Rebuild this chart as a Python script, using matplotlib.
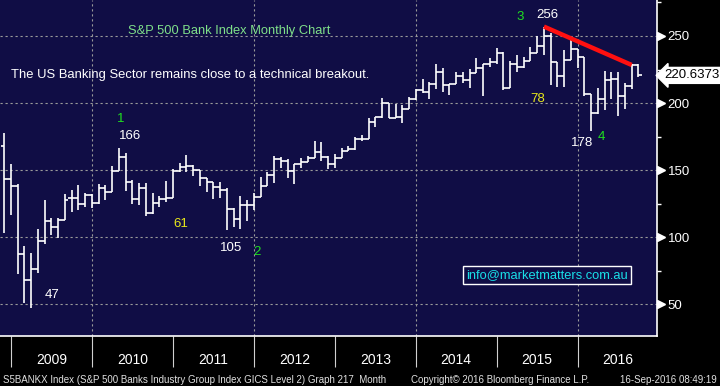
import matplotlib
matplotlib.use('Agg')
import matplotlib.pyplot as plt
import matplotlib.transforms as mtransforms
import numpy as np

# monthly OHLC, Nov 2008 .. Sep 2016 (bars dated month end)
opens = [168.0, 143.4, 138.0, 87.3, 67.9, 76.1, 97.4, 112.3, 107.4, 112.6, 129.3, 129.3, 124.6, 131.3,
         125.3, 136.7, 134.0, 149.4, 159.6, 141.4, 128.3, 136.5, 117.8, 125.3, 128.5, 129.0,
         149.4, 152.1, 153.1, 150.1, 143.9, 141.0, 137.2, 135.0, 120.8, 113.4, 124.0, 124.0,
         130.2, 138.2, 146.2, 158.1, 157.1, 149.6, 154.4, 155.9, 158.8, 163.3, 159.6, 154.6,
         158.8, 164.5, 165.6, 173.0, 173.3, 186.1, 189.9, 199.8, 189.1, 189.9, 195.4, 202.8,
         209.8, 208.3, 214.0, 223.4, 213.2, 214.0, 220.2, 217.0, 222.7, 225.9, 229.1, 230.4,
         237.1, 211.5, 228.9, 226.7, 231.6, 237.1, 242.6, 250.0, 230.9, 220.4, 232.1, 240.1,
         234.1, 206.5, 192.4, 203.0, 217.2, 218.0, 205.0, 212.7, 228.6]
highs = [177.5, 154.4, 139.5, 93.5, 88.0, 105.9, 127.5, 114.1, 114.1, 132.2, 135.2, 139.0, 133.0, 132.0,
         139.5, 139.0, 153.1, 166.3, 163.0, 143.0, 140.7, 140.2, 132.8, 131.0, 141.9, 150.6,
         155.1, 161.3, 153.9, 150.5, 144.4, 141.0, 141.0, 136.5, 121.6, 130.7, 127.8, 133.2,
         145.1, 148.4, 160.6, 160.0, 158.0, 154.4, 158.8, 160.8, 171.7, 171.2, 160.6, 162.0,
         166.3, 168.2, 175.0, 176.2, 189.1, 189.9, 203.6, 200.3, 199.5, 198.6, 204.8, 210.3,
         217.7, 216.0, 228.9, 225.9, 214.5, 223.0, 223.4, 225.2, 233.4, 229.1, 233.4, 240.8,
         238.3, 231.6, 235.9, 234.6, 242.0, 250.0, 257.0, 252.0, 230.9, 239.6, 247.0, 240.5,
         234.5, 206.7, 211.0, 224.0, 223.0, 223.0, 215.0, 228.9, 228.9]
lows = [103.4, 116.6, 72.8, 51.2, 47.5, 73.6, 94.7, 101.7, 99.2, 112.6, 119.0, 120.3, 122.5, 122.0,
        125.0, 127.8, 134.0, 149.4, 134.5, 124.6, 124.0, 116.1, 117.5, 122.8, 126.5, 129.0,
        148.9, 148.9, 145.9, 138.4, 133.5, 128.5, 129.5, 105.6, 107.9, 106.1, 112.1, 120.3,
        130.2, 138.2, 140.7, 151.8, 143.9, 139.5, 151.8, 155.9, 158.8, 156.8, 150.9, 151.4,
        158.8, 164.0, 165.0, 172.0, 173.0, 182.4, 189.0, 188.7, 188.7, 185.4, 195.4, 202.0,
        207.8, 203.0, 210.5, 208.5, 206.0, 214.0, 215.2, 211.5, 222.7, 205.3, 227.1, 228.9,
        209.8, 211.5, 223.4, 226.0, 231.5, 237.0, 235.9, 213.5, 212.0, 212.2, 232.0, 225.9,
        205.0, 179.2, 192.0, 195.0, 203.0, 190.4, 195.4, 210.3, 219.2]
closes = [143.4, 138.0, 87.3, 67.9, 76.1, 97.4, 112.3, 107.4, 112.6, 127.5, 129.3, 124.6, 131.3, 125.3,
          136.7, 134.0, 149.4, 159.6, 141.4, 128.3, 136.5, 117.8, 125.3, 128.5, 129.0, 149.4,
          152.1, 153.1, 150.1, 143.9, 141.0, 137.2, 135.0, 120.8, 113.4, 124.0, 124.0, 130.2,
          138.2, 146.2, 158.1, 157.1, 149.6, 154.4, 155.9, 158.8, 163.3, 159.6, 154.6, 158.8,
          164.5, 165.6, 173.0, 173.3, 186.1, 189.9, 199.8, 189.1, 189.9, 195.4, 202.8, 209.8,
          208.3, 214.0, 223.4, 213.2, 214.0, 220.2, 217.0, 222.7, 225.9, 229.1, 230.4, 237.1,
          211.5, 228.9, 226.7, 231.6, 237.1, 242.6, 250.0, 230.9, 220.4, 232.1, 240.1, 234.1,
          206.5, 192.4, 203.0, 217.2, 218.0, 205.0, 212.7, 228.6, 220.6373]

years = ['2009', '2010', '2011', '2012', '2013', '2014', '2015', '2016']
year_start = [1, 13, 25, 37, 49, 61, 73, 85]   # bar index of the Dec bar closing each year
yticks = [50, 100, 150, 200, 250]
last_price = 220.6373

# trend line: Jul 2015 high -> Aug 2016 high
trend_x = [80, 93]
trend_y = [257.0, 228.4]

# labels: (text, x, y, colour)
notes = [('1', 17.3, 188, '#1fe01f'), ('166', 18.6, 175.5, 'white'),
         ('47', 7.1, 57, 'white'), ('61', 26.1, 110, '#e8e81a'),
         ('105', 33.6, 92, 'white'), ('2', 37.5, 89, '#1fe01f'),
         ('3', 76.5, 264.5, '#1fe01f'), ('256', 80.5, 265.7, 'white'),
         ('78', 79.0, 203, '#e8e81a'), ('178', 85.6, 170, 'white'),
         ('4', 88.5, 175, '#1fe01f')]

navy = '#100d45'
plt.rcParams['font.family'] = ['Liberation Sans', 'DejaVu Sans']

fig = plt.figure(figsize=(7.2, 3.86), dpi=100, facecolor='black')
ax = fig.add_axes([0, 50 / 386, 656.6 / 720, 336 / 386])
ax.set_facecolor(navy)

x = np.arange(len(closes))
ax.vlines(x, lows, highs, color='white', lw=1.2, zorder=3)
ax.hlines(opens, x - 0.5, x, color='white', lw=1.2, zorder=3)
ax.hlines(closes, x, x + 0.5, color='white', lw=1.2, zorder=3)

ax.plot(trend_x, trend_y, color='#ff1010', lw=3.2, solid_capstyle='butt', zorder=4)

# grid
for yv in yticks:
    ax.axhline(yv, color='#9a9a9a', lw=0.8, ls=(0, (2, 2.5)), zorder=1)
for xv in year_start[1::2]:
    ax.axvline(xv, color='#9a9a9a', lw=0.8, ls=(0, (2, 2.5)), zorder=1)

ax.set_xlim(-0.63, 96.7)
ax.set_ylim(26.5, 276.8)

for s in ['left', 'top']:
    ax.spines[s].set_visible(False)
ax.spines['right'].set_color('white')
ax.spines['bottom'].set_color('white')
ax.spines['right'].set_linewidth(1.2)
ax.spines['bottom'].set_linewidth(1.2)

ax.set_xticks([])
ax.yaxis.tick_right()
ax.set_yticks(yticks)
ax.set_yticks([75, 125, 175, 225, 275], minor=True)
ax.tick_params(axis='y', which='major', length=0, pad=8, labelsize=9.5, labelcolor='white')
ax.tick_params(axis='y', which='minor', length=3, width=1, color='white', direction='out')

trans_r = mtransforms.blended_transform_factory(ax.transAxes, ax.transData)
ax.plot([1.0 + 4 / 656.6] * len(yticks), yticks, marker='>', ms=6, color='white',
        ls='none', clip_on=False, transform=trans_r)

ax.text(1.0 + 8 / 656.6, last_price, '220.6373', transform=trans_r, fontsize=9.5,
        color='black', va='center', ha='left', clip_on=False,
        bbox=dict(boxstyle='larrow,pad=0.15', fc='white', ec='white'))

# year strip
trans_b = mtransforms.blended_transform_factory(ax.transData, ax.transAxes)
ax.vlines(year_start, -31 / 336, 0, color='#d0d0d0', lw=0.8, transform=trans_b, clip_on=False)
for i, yr in enumerate(years):
    ax.text(year_start[i] + 6, -24 / 336, yr, transform=trans_b, color='white',
            fontsize=10, ha='center', va='center')

for txt, xx, yy, c in notes:
    ax.text(xx, yy, txt, color=c, fontsize=9.5, ha='center', va='center', zorder=5)

ax.text(229.5 / 656.6, 1 - 31 / 336, 'S&P 500 Bank Index Monthly Chart', transform=ax.transAxes,
        color='#7fe08a', fontsize=9.3, ha='center', va='center')
ax.text(11 / 656.6, 1 - 75 / 336, 'The US Banking Sector remains close to a technical breakout.',
        transform=ax.transAxes, color='white', fontsize=9.4, ha='left', va='center')
ax.text(547 / 656.6, 1 - 275 / 336, 'info@marketmatters.com.au', transform=ax.transAxes,
        color='#19e0e8', fontsize=9.3, ha='center', va='center',
        bbox=dict(boxstyle='square,pad=0.25', fc=navy, ec='white', lw=1))

fig.text(3 / 720, 1 - 380 / 386,
         'S5BANKX Index (S&P 500 Banks Industry Group Index GICS Level 2) Graph 217  Month',
         color='#e0e0e0', fontsize=7, ha='left', va='center')
fig.text(411 / 720, 1 - 380 / 386, 'Copyright\u00a9 2016 Bloomberg Finance L.P.',
         color='#e0e0e0', fontsize=7, ha='left', va='center')
fig.text(717 / 720, 1 - 380 / 386, '16-Sep-2016 08:49:19',
         color='#e0e0e0', fontsize=7, ha='right', va='center')

fig.savefig('out.png', dpi=100, facecolor='black')
